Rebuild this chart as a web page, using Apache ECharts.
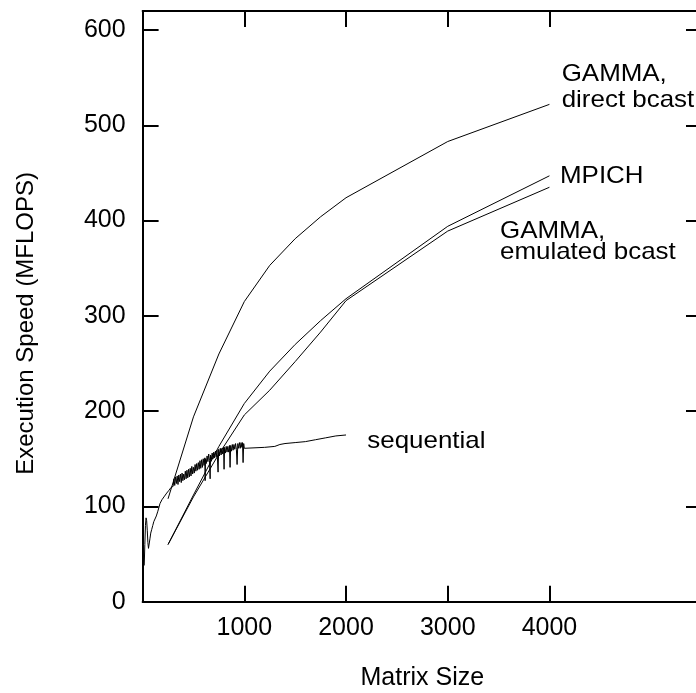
<!DOCTYPE html>
<html><head><meta charset="utf-8">
<script src="https://cdn.jsdelivr.net/npm/echarts@6/dist/echarts.min.js"></script>
<style>html,body{margin:0;padding:0;background:#fff}#c{width:696px;height:693px}</style>
</head><body><div id="c"></div>
<script>
// ---- data ----
const xTicks = [1000, 2000, 3000, 4000];
const yTicks = [100, 200, 300, 400, 500, 600];
const yLabels = [0, 100, 200, 300, 400, 500, 600];
const sizes = [250, 500, 750, 1000, 1250, 1500, 1750, 2000, 3000, 4000];
const gammaDirect   = [108, 194, 260, 315, 353, 381, 404, 424, 483, 522];
const mpich         = [60, 112, 163, 208, 242, 270, 295, 318, 394, 447];
const gammaEmulated = [60, 110, 155, 196, 222, 252, 283, 316, 389, 435];
const seqX = [16,22,28,34,40,46,52,58,64,72,80,90,100,110,122,135,150,171,190,210,237,260,280,
  300,308,316,324,332,340,348,356,364,372,380,388,396,404,412,420,428,436,444,452,460,468,476,484,492,
  500,508,516,524,532,540,548,556,564,572,580,588,596,604,612,615,618,626,634,642,650,658,664,668,676,684,692,
  700,708,716,724,732,742,748,756,764,772,780,788,796,801,806,814,822,830,838,846,854,860,866,874,882,890,898,
  906,914,922,929,936,944,952,960,968,976,982,988,994,1000,
  1200,1300,1350,1400,1500,1600,1700,1800,1900,2000];
const seqY = [38,60,80,88,85,75,62,56,58,66,72,76,80,84,86,90,95,103,107,110,114,117,120,
  121,129,122,131,124,132,123,133,126,134,125,135,127,134,128,137,129,138,130,139,131,140,132,142,134,
  141,135,144,137,145,138,146,139,148,140,149,141,150,143,151,127,150,145,153,147,155,148,129,154,149,156,150,
  157,151,158,152,159,136,160,153,161,154,161,155,162,139,162,156,163,157,163,157,164,141,164,158,165,159,165,
  160,166,160,144,166,161,167,161,167,162,167,146,166,161,
  162,163,165,166,167,168,170,172,174,175];

const pairs = (xs, ys) => xs.map((x, i) => [x, ys[i]]);
const FONT = 'Liberation Sans, Arial, Helvetica, sans-serif';
const chart = echarts.init(document.getElementById('c'), null, {renderer: 'canvas'});

const lineSeries = (name, data) => ({
  name, type: 'line', data, showSymbol: false, symbol: 'none', smooth: false,
  lineStyle: {color: '#000', width: 1}, animation: false, silent: true
});

const axisLine = {show: true, onZero: false, lineStyle: {color: '#000', width: 2}};
const tick = vals => ({show: true, inside: true, length: 16, lineStyle: {color: '#000', width: 2}, customValues: vals});

const annot = (text, x, y) => ({
  type: 'text', x, y, scaleX: 1.08, scaleY: 1,
  style: {text, fill: '#000', fontSize: 24, fontFamily: FONT, align: 'left', verticalAlign: 'middle'}
});

chart.setOption({
  animation: false,
  backgroundColor: '#fff',
  grid: {left: 142.6, width: 559.4, top: 11, height: 590.7, containLabel: false, outerBoundsMode: 'none'},
  xAxis: [
    {type: 'value', position: 'bottom', min: 0, max: 5500, interval: 1000,
     axisLine, axisTick: tick(xTicks),
     axisLabel: {customValues: xTicks, formatter: v => String(v), color: '#000', fontSize: 25, fontFamily: FONT, margin: 14},
     splitLine: {show: false},
     name: 'Matrix Size', nameLocation: 'middle', nameGap: 64,
     nameTextStyle: {color: '#000', fontSize: 25, fontFamily: FONT}},
    {type: 'value', position: 'top', min: 0, max: 5500, interval: 1000,
     axisLine, axisTick: tick(xTicks), axisLabel: {show: false}, splitLine: {show: false}}
  ],
  yAxis: [
    {type: 'value', position: 'left', min: 0, max: 620, interval: 100,
     axisLine, axisTick: tick(yTicks),
     axisLabel: {customValues: yLabels, formatter: v => String(v), color: '#000', fontSize: 25, fontFamily: FONT, margin: 17},
     splitLine: {show: false},
     name: 'Execution Speed (MFLOPS)', nameLocation: 'middle', nameGap: 104,
     nameTextStyle: {color: '#000', fontSize: 24, fontFamily: FONT, padding: [0, 34, 0, 0]}},
    {type: 'value', position: 'right', min: 0, max: 620, interval: 100,
     axisLine, axisTick: tick(yTicks), axisLabel: {show: false}, splitLine: {show: false}}
  ],
  series: [
    lineSeries('GAMMA, direct bcast', pairs(sizes, gammaDirect)),
    lineSeries('MPICH', pairs(sizes, mpich)),
    lineSeries('GAMMA, emulated bcast', pairs(sizes, gammaEmulated)),
    lineSeries('sequential', pairs(seqX, seqY))
  ],
  graphic: [
    annot('GAMMA,', 561.7, 74.5),
    annot('direct bcast', 561.7, 100),
    annot('MPICH', 560, 176),
    annot('GAMMA,', 500, 231),
    annot('emulated bcast', 500, 252.4),
    annot('sequential', 367.3, 441)
  ]
});
</script></body></html>
